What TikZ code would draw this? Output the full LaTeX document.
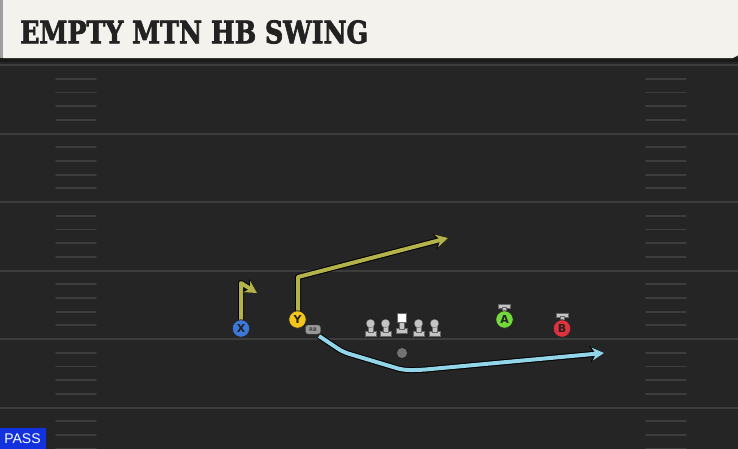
\documentclass[tikz,border=0pt]{standalone}
\usepackage{fontspec}
\usepackage{graphicx}
\usetikzlibrary{arrows.meta}
\setmainfont{DejaVu Sans}
\newfontfamily\titlefont{DejaVu Serif}[BoldFeatures={FakeBold=2.5}]
\newfontfamily\passfont{Liberation Sans}
\definecolor{fieldbg}{HTML}{252525}
\definecolor{yardline}{HTML}{3C3C3C}
\definecolor{hashc}{HTML}{3D3D3D}
\definecolor{titlebg}{HTML}{F4F2EC}
\definecolor{titletext}{HTML}{222222}
\definecolor{yroute}{HTML}{B3B24B}
\definecolor{broute}{HTML}{92D4E8}
\definecolor{xblue}{HTML}{3C78D8}
\definecolor{yyellow}{HTML}{F4C61C}
\definecolor{agreen}{HTML}{72D83C}
\definecolor{bred}{HTML}{E0323C}
\definecolor{olgray}{HTML}{C4C4C4}
\definecolor{passblue}{HTML}{1232E0}
\tikzset{
  yard/.style={draw=yardline, line width=2pt},
  hashmark/.style={draw=hashc, line width=1.8pt},
  player/.style={circle, draw=black!85, line width=0.8pt, minimum size=17.5pt, inner sep=0pt, font=\bfseries\fontsize{11}{11}\selectfont, text=titletext},
  routeout/.style={draw=black, line width=6pt, line join=round, -{Stealth[length=14pt,width=16pt,inset=4.5pt]}},
  routein/.style={line width=4pt, line join=round, -{Stealth[length=12pt,width=13pt,inset=4pt]}},
  olpart/.style={fill=olgray, draw=black!60, line width=0.3pt},
}
\begin{document}
\begin{tikzpicture}[x=1pt,y=-1pt]
\useasboundingbox (0,0) rectangle (738,448);
% field
\fill[fieldbg] (-10,-10) rectangle (748,458);
\fill[black!90!white] (-10,57) rectangle (748,62);
% yard lines
\foreach \yy in {65,133.5,202,270.5,339,407.5}
  \draw[yard] (-5,\yy) -- (743,\yy);
% hash marks
\foreach \yy in {65,133.5,202,270.5,339,407.5}{
  \foreach \k in {1,2,3,4}{
    \pgfmathsetmacro{\hy}{\yy+\k*13.7}
    \draw[hashmark, line cap=round] (56,\hy) -- (96,\hy);
    \draw[hashmark, line cap=round] (646,\hy) -- (686,\hy);
  }
}
% title bar
\fill[titlebg] (3,-10) -- (748,-10) -- (748,50) -- (733,58) -- (3,58) -- cycle;
\fill[black!38] (-10,-10) rectangle (3,58);
\node[anchor=west, inner sep=0pt, text=titletext] (title) at (20,32)
  {\resizebox{348pt}{23pt}{\titlefont\bfseries EMPTY MTN HB SWING}};
% PASS
\fill[passblue] (-10,428) rectangle (46,458);
\node[inner sep=0pt, text=white, font=\passfont\fontsize{14}{14}\selectfont] (pass) at (22.5,438.5) {PASS};
% route coordinates
\coordinate (xs) at (241,320);
\coordinate (x1) at (241,283);
\coordinate (xe) at (257,293);
\coordinate (ys) at (298,311);
\coordinate (y1) at (298,277);
\coordinate (ye) at (448,238);
\coordinate (rs) at (319,336);
\coordinate (r1) at (343,352);
\coordinate (r2) at (403,370);
\coordinate (r3) at (420,370);
\coordinate (re) at (604,353);
% routes (outline)
\draw[routeout] (xs) -- (x1) -- (xe);
\draw[routeout] (ys) -- (y1) -- (ye);
\draw[routeout, rounded corners=6pt] (rs) -- (r1) -- (r2) -- (r3) -- (re);
% routes (colour)
\draw[routein, draw=yroute] (xs) -- (x1) -- (xe);
\draw[routein, draw=yroute] (ys) -- (y1) -- (ye);
\draw[routein, draw=broute, rounded corners=6pt] (rs) -- (r1) -- (r2) -- (r3) -- (re);
% offensive line
\foreach \lx/\nm in {370.5/lt,385.5/lg,418.5/rg,434.5/rt}{
  \fill[olpart] (\lx-5.5,331.5) rectangle (\lx+5.5,336.5);
  \fill[olpart] (\lx-2.4,323) rectangle (\lx+2.4,332);
  \node[circle, fill=olgray, draw=black!60, line width=0.3pt, minimum size=8.5pt, inner sep=0pt] (\nm) at (\lx,323.5) {};
}
\fill[olpart] (396.5,328.5) rectangle (407.5,333.5);
\fill[olpart] (399.6,320) rectangle (404.4,329);
\node[rectangle, fill=white, draw=black!60, line width=0.3pt, minimum width=9pt, minimum height=9pt, inner sep=0pt] (c) at (402,317.5) {};
% QB
\node[circle, fill=black!55, minimum size=10pt, inner sep=0pt] (qb) at (402,353) {};
% players
\node[player, fill=xblue] (X) at (241,328.5) {X};
\node[player, fill=yyellow] (Y) at (297.5,319.5) {Y};
\node[rounded corners=2.5pt, fill=black!40, draw=black!70, line width=0.4pt, minimum width=15pt, minimum height=9pt, inner sep=0pt, font=\bfseries\fontsize{5}{5}\selectfont, text=black!75] (RB) at (313,329.5) {RB};
% A and B with bars
\fill[olpart] (498,304) rectangle (510,308);
\fill[olpart] (502,307) rectangle (506,312);
\node[player, fill=agreen] (A) at (504.5,319.5) {A};
\fill[olpart] (556,313) rectangle (568,317);
\fill[olpart] (560,316) rectangle (564,321);
\node[player, fill=bred] (B) at (562,328.5) {B};
\end{tikzpicture}
\end{document}
